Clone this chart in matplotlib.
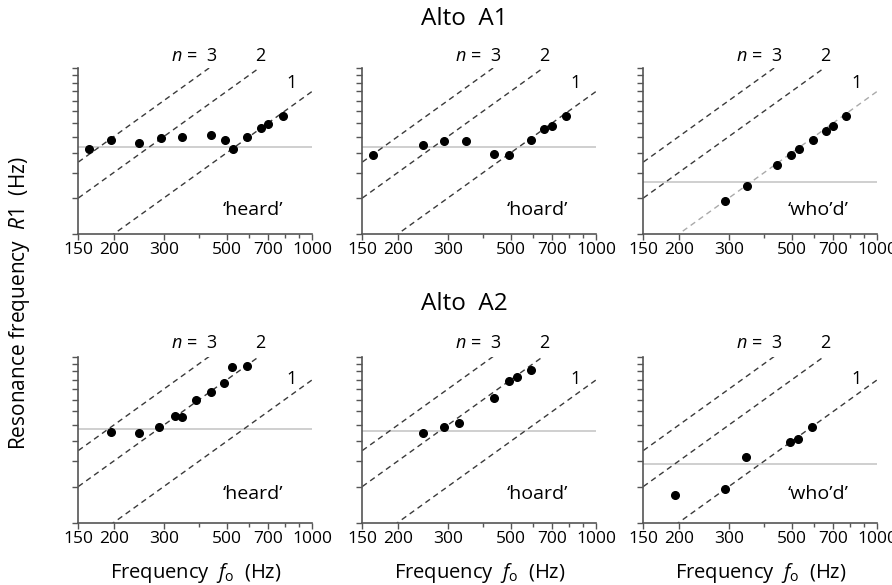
import matplotlib
matplotlib.use("Agg")
import matplotlib.pyplot as plt
from matplotlib.ticker import FixedLocator, NullFormatter, FixedFormatter

plt.rcParams["font.family"] = ["Open Sans", "DejaVu Sans"]
plt.rcParams["mathtext.fontset"] = "custom"
plt.rcParams["mathtext.it"] = "Open Sans:italic"
plt.rcParams["mathtext.rm"] = "Open Sans"

# values (Hz)
vowels = ["\u2018heard\u2019", "\u2018hoard\u2019", "\u2018who\u2019d\u2019"]
singers = ["Alto  A1", "Alto  A2"]

a1_heard_f0 = [164, 195, 246, 293, 348, 440, 492, 524, 589, 658, 698, 786]
a1_heard_r1 = [520, 576, 555, 589, 596, 611, 580, 520, 596, 661, 692, 757]
a1_hoard_f0 = [163, 246, 290, 347, 438, 493, 588, 657, 698, 784]
a1_hoard_r1 = [486, 544, 572, 572, 494, 486, 580, 654, 674, 757]
a1_whod_f0 = [292, 348, 443, 495, 528, 592, 658, 696, 776]
a1_whod_r1 = [289, 342, 435, 490, 520, 580, 640, 674, 755]

a2_heard_f0 = [195, 245, 289, 328, 347, 388, 440, 490, 523, 589]
a2_heard_r1 = [554, 546, 587, 665, 657, 794, 870, 967, 1160, 1165]
a2_hoard_f0 = [246, 292, 328, 438, 493, 525, 588]
a2_hoard_r1 = [548, 589, 614, 818, 987, 1037, 1118]
a2_whod_f0 = [194, 292, 345, 492, 527, 588]
a2_whod_r1 = [274, 291, 418, 495, 512, 589]

# grey horizontal reference level in each panel
a1_level = [532, 532, 360]
a2_level = [571, 561, 387]

harmonics = [1, 2, 3]
x_major = [150, 200, 300, 500, 700, 1000]
x_minor = [400, 600, 800, 900]
y_ticks = [200, 300, 400, 500, 600, 700, 800, 900, 1000, 1100, 1200, 1300]

data = [
    [(a1_heard_f0, a1_heard_r1), (a1_hoard_f0, a1_hoard_r1), (a1_whod_f0, a1_whod_r1)],
    [(a2_heard_f0, a2_heard_r1), (a2_hoard_f0, a2_hoard_r1), (a2_whod_f0, a2_whod_r1)],
]
levels = [a1_level, a2_level]

fig = plt.figure(figsize=(8.92, 5.85), dpi=100)

lefts = [78.3 / 892, 362.3 / 892, 643.3 / 892]
bottoms = [1 - 234 / 585, 1 - 522.5 / 585]
w = 234 / 892
h = 166 / 585

spine_col = "#555555"
dash_col = "#3a3a3a"

for r in range(2):
    for c in range(3):
        ax = fig.add_axes([lefts[c], bottoms[r], w, h])
        ax.set_xscale("log")
        ax.set_yscale("log")
        ax.set_xlim(150, 1000)
        ax.set_ylim(200, 1300)

        xs = [150, 1000]
        for n in harmonics:
            col = dash_col
            if r == 0 and c == 2 and n == 1:
                col = "#aaaaaa"
            ax.plot(xs, [n * x for x in xs], ls=(0, (4, 3)), color=col, lw=1.0)

        ax.axhline(levels[r][c], color="#cccccc", lw=1.3, zorder=1)

        f0, r1 = data[r][c]
        ax.plot(f0, r1, "o", color="black", ms=5.5, zorder=3)

        ax.xaxis.set_major_locator(FixedLocator(x_major))
        ax.xaxis.set_major_formatter(FixedFormatter([str(v) for v in x_major]))
        ax.xaxis.set_minor_locator(FixedLocator(x_minor))
        ax.xaxis.set_minor_formatter(NullFormatter())
        ax.yaxis.set_major_locator(FixedLocator(y_ticks))
        ax.yaxis.set_major_formatter(NullFormatter())
        ax.yaxis.set_minor_locator(FixedLocator([]))

        for s in ["top", "right"]:
            ax.spines[s].set_visible(False)
        for s in ["left", "bottom"]:
            ax.spines[s].set_color(spine_col)
            ax.spines[s].set_linewidth(1.2)
        ax.tick_params(axis="x", which="major", length=4, width=1, color=spine_col,
                       labelsize=12.5, pad=2)
        ax.tick_params(axis="x", which="minor", length=3, width=1, color=spine_col)
        ax.tick_params(axis="y", which="major", length=4, width=1, color=spine_col)
        ax.patch.set_visible(False)

        # harmonic labels
        ty3 = 1480 if r == 0 else 1520
        ty1 = 1096 if r == 0 else 1012
        ax.text(442, ty3, "3", ha="center", va="center", fontsize=13, clip_on=False)
        ax.text(395, ty3, "$n$ =", ha="right", va="center", fontsize=13, clip_on=False)
        ax.text(654, ty3, "2", ha="center", va="center", fontsize=13, clip_on=False)
        ax.text(846, ty1, "1", ha="center", va="center", fontsize=13, clip_on=False)

        ax.text(620, 262 if r == 0 else 275, vowels[c], ha="center", va="center",
                fontsize=14)

        if r == 1:
            ax.set_xlabel(r"Frequency  $f_{\rm o}$  (Hz)", fontsize=14.5, labelpad=10)

fig.text(464 / 892, 1 - 19 / 585, singers[0], ha="center", va="center", fontsize=17.5)
fig.text(464 / 892, 1 - 304 / 585, singers[1], ha="center", va="center", fontsize=17.5)
fig.text(20 / 892, 1 - 303 / 585, r"Resonance frequency  $R1$  (Hz)", rotation=90,
         ha="center", va="center", fontsize=15)

fig.savefig("out.png", dpi=100)
